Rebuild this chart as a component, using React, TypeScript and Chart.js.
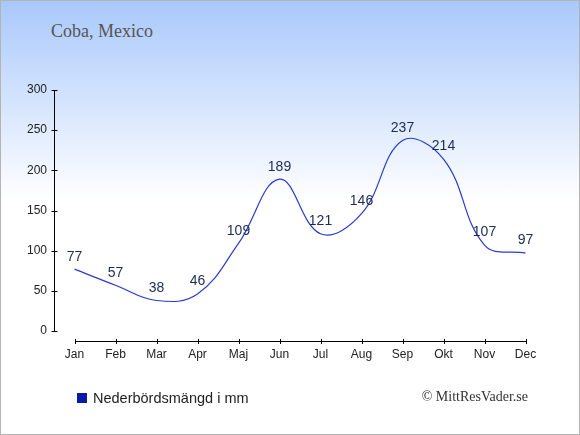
import { useEffect, useRef } from "react";
import { Chart, registerables } from "chart.js";

Chart.register(...registerables);

const months = ["Jan", "Feb", "Mar", "Apr", "Maj", "Jun", "Jul", "Aug", "Sep", "Okt", "Nov", "Dec"];
const rainfall = [77, 57, 38, 46, 109, 189, 121, 146, 237, 214, 107, 97];
const yMin = 0;
const yMax = 300;
const yStep = 50;

// axis lines drawn apart from each other, like the original
const axesPlugin = {
  id: "splitAxes",
  afterDraw(chart: any) {
    const { ctx, scales } = chart;
    const x = scales.x;
    const y = scales.y;
    const left = Math.round(chart.chartArea.left) + 0.5;
    const y0 = y.getPixelForValue(yMin);
    ctx.save();
    ctx.strokeStyle = "#000";
    ctx.lineWidth = 1;
    ctx.beginPath();
    ctx.moveTo(left, Math.round(y.getPixelForValue(yMax)));
    ctx.lineTo(left, Math.round(y0));
    y.ticks.forEach((t: any) => {
      const py = Math.round(y.getPixelForValue(t.value)) + 0.5;
      ctx.moveTo(left - 3, py);
      ctx.lineTo(left + 3, py);
    });
    const ax = Math.round(y0 + 10) + 0.5;
    ctx.moveTo(Math.round(x.getPixelForValue(0)), ax);
    ctx.lineTo(Math.round(x.getPixelForValue(months.length - 1)) + 1, ax);
    months.forEach((_, i) => {
      const px = Math.round(x.getPixelForValue(i)) + 0.5;
      ctx.moveTo(px, ax - 2.5);
      ctx.lineTo(px, ax + 2.5);
    });
    ctx.stroke();
    ctx.restore();
  },
};

const valueLabels = {
  id: "valueLabels",
  afterDatasetsDraw(chart: any) {
    const { ctx } = chart;
    const meta = chart.getDatasetMeta(0);
    ctx.save();
    ctx.font = "14px 'Liberation Sans', Arial, sans-serif";
    ctx.fillStyle = "#1c2b55";
    ctx.textAlign = "center";
    ctx.textBaseline = "middle";
    meta.data.forEach((pt: any, i: number) => {
      ctx.fillText(String(rainfall[i]), pt.x, pt.y - 12.5);
    });
    ctx.restore();
  },
};

export default function App() {
  const canvasRef = useRef<HTMLCanvasElement | null>(null);

  useEffect(() => {
    document.body.style.margin = "0";
    if (!canvasRef.current) return;
    const chart = new Chart(canvasRef.current, {
      type: "line",
      data: {
        labels: months,
        datasets: [
          {
            label: "Nederbördsmängd i mm",
            data: rainfall,
            borderColor: "#2a3acc",
            borderWidth: 1.2,
            pointRadius: 0,
            tension: 0.4,
            fill: false,
          },
        ],
      },
      options: {
        responsive: false,
        animation: false,
        layout: { padding: { top: 90, right: 34, left: 0, bottom: 0 } },
        plugins: {
          legend: { display: false },
          tooltip: { enabled: false },
        },
        scales: {
          x: {
            offset: true,
            grid: { display: false, drawTicks: false },
            border: { display: false },
            ticks: {
              padding: 16,
              color: "#222",
              font: { family: "'Liberation Sans', Arial, sans-serif", size: 12 },
            },
            afterFit: (s: any) => {
              s.height = 104;
            },
          },
          y: {
            min: yMin,
            max: yMax,
            grid: { display: false, drawTicks: false },
            border: { display: false },
            ticks: {
              stepSize: yStep,
              padding: 7,
              color: "#222",
              font: { family: "'Liberation Sans', Arial, sans-serif", size: 12 },
            },
            afterFit: (s: any) => {
              s.width = 54;
            },
          },
        },
      },
      plugins: [axesPlugin, valueLabels],
    });
    return () => chart.destroy();
  }, []);

  return (
    <div
      style={{
        position: "relative",
        width: 580,
        height: 435,
        background: "linear-gradient(to bottom, #a8c8fb 0px, #ffffff 200px, #ffffff 100%)",
        overflow: "hidden",
      }}
    >
      <div
        style={{
          position: "absolute",
          left: 51,
          top: 20,
          fontFamily: "'Liberation Serif', 'Times New Roman', serif",
          fontSize: 18,
          color: "#555",
          lineHeight: "22px",
        }}
      >
        Coba, Mexico
      </div>
      <canvas ref={canvasRef} width={580} height={435} style={{ position: "absolute", left: 0, top: 0 }} />
      <div
        style={{
          position: "absolute",
          left: 77,
          top: 389,
          display: "flex",
          alignItems: "center",
          fontFamily: "'Liberation Sans', Arial, sans-serif",
          fontSize: 14.5,
          color: "#222",
          lineHeight: "18px",
        }}
      >
        <span style={{ display: "inline-block", width: 10, height: 10, background: "#0a1aa8", marginRight: 6 }} />
        Nederbördsmängd i mm
      </div>
      <div
        style={{
          position: "absolute",
          right: 52,
          top: 388,
          fontFamily: "'Liberation Serif', 'Times New Roman', serif",
          fontSize: 14,
          color: "#333",
          lineHeight: "18px",
        }}
      >
        © MittResVader.se
      </div>
      <div
        style={{
          position: "absolute",
          inset: 0,
          border: "1px solid #b4b4b4",
          pointerEvents: "none",
        }}
      />
    </div>
  );
}
